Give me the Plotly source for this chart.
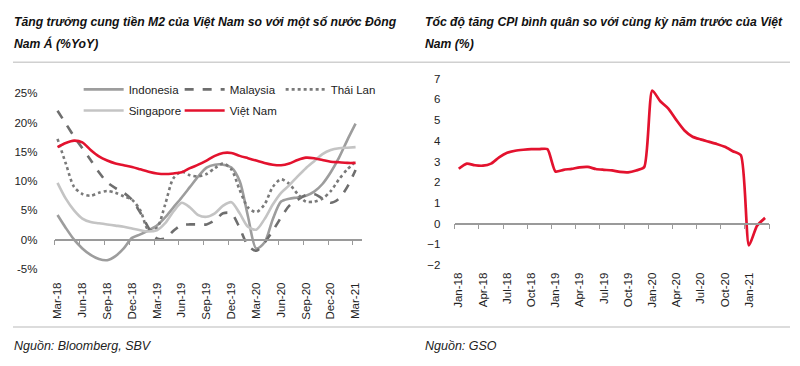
import plotly.graph_objects as go

# ---------------- data ----------------
m2_labels = ["Mar-18", "Jun-18", "Sep-18", "Dec-18", "Mar-19", "Jun-19", "Sep-19",
             "Dec-19", "Mar-20", "Jun-20", "Sep-20", "Dec-20", "Mar-21"]
m2_months = list(range(37))  # monthly, Mar-18 .. Mar-21

indonesia = [4.2, 2.0, 0.0, -1.5, -2.6, -3.3, -3.5, -2.8, -1.5, 0.3, 0.9, 1.6, 2.4,
             3.8, 5.5, 7.2, 9.0, 10.8, 12.3, 12.8, 12.8, 12.3, 10.0, 4.0, -1.5,
             -0.5, 3.5, 6.5, 7.0, 7.2, 7.5, 8.2, 9.5, 11.5, 14.0, 17.0, 19.8]
malaysia = [22.0, 19.8, 17.6, 15.6, 13.6, 11.5, 9.8, 8.8, 8.0, 6.8, 4.6, 2.0, 0.2,
            0.2, 1.5, 2.5, 2.6, 2.6, 2.6, 3.3, 4.5, 4.5, 2.0, -1.0, -1.9,
            -0.5, 1.5, 3.8, 5.8, 6.8, 7.6, 7.8, 7.0, 6.3, 7.0, 9.0, 11.9]
thailand = [17.2, 13.0, 9.0, 7.8, 7.5, 8.0, 8.3, 8.0, 7.4, 6.8, 5.0, 1.6, 2.0,
            6.0, 10.5, 11.6, 11.0, 10.8, 11.2, 12.2, 13.0, 12.0, 8.5, 5.5, 4.7,
            6.0, 9.0, 10.3, 9.5, 7.8, 6.5, 6.5, 7.0, 8.3, 10.3, 12.0, 13.3]
singapore = [9.7, 7.0, 5.0, 3.6, 3.0, 2.8, 2.6, 2.4, 2.2, 1.9, 1.6, 1.4, 1.6,
             2.8, 4.8, 6.3, 5.5, 4.2, 3.9, 4.5, 5.8, 6.4, 4.5, 2.2, 1.7,
             3.5, 6.0, 8.0, 9.3, 10.8, 12.2, 13.4, 14.6, 15.3, 15.6, 15.7, 15.8]
vietnam = [15.8, 16.5, 16.9, 16.6, 15.3, 14.2, 13.5, 13.0, 12.7, 12.4, 12.0, 11.6, 11.3,
           11.2, 11.3, 11.5, 12.2, 12.8, 13.5, 14.3, 14.8, 14.8, 14.3, 13.9, 13.5,
           13.1, 12.8, 12.7, 13.0, 13.6, 14.0, 13.9, 13.6, 13.3, 13.2, 13.1, 13.1]
m2_yticks = [-5, 0, 5, 10, 15, 20, 25]

cpi_labels = ["Jan-18", "Apr-18", "Jul-18", "Oct-18", "Jan-19", "Apr-19", "Jul-19",
              "Oct-19", "Jan-20", "Apr-20", "Jul-20", "Oct-20", "Jan-21"]
cpi_months = list(range(39))  # monthly, Jan-18 .. Mar-21
cpi = [2.65, 2.9, 2.82, 2.8, 2.9, 3.2, 3.42, 3.52, 3.57, 3.6, 3.6, 3.6,
       2.52, 2.6, 2.65, 2.72, 2.74, 2.64, 2.6, 2.57, 2.5, 2.48, 2.57, 2.73,
       6.43, 5.91, 5.56, 5.0, 4.5, 4.2, 4.07, 3.96, 3.85, 3.71, 3.5, 3.3,
       -1.05, -0.1, 0.28]
cpi_yticks = [-2, -1, 0, 1, 2, 3, 4, 5, 6, 7]

# ---------------- layout helpers ----------------
# The page body keeps its default 8px margin, so the figure is sized to fit
# the 800x366 window exactly (784x350) and positions are given in window px.
OFF = 8
FW, FH = 800 - 2 * OFF, 366 - 2 * OFF
FONT = "Liberation Sans, Arial, sans-serif"

def sx(pix):
    return (pix - OFF) / FW

def sy(pix):
    return (FH - (pix - OFF)) / FH

L_DOM_X = [sx(51), sx(360)]
L_DOM_Y = [sy(272), sy(90)]
R_DOM_X = [sx(453), sx(769)]
R_DOM_Y = [sy(268), sy(75)]
L_RANGE_Y = [-5, 25]
R_RANGE_Y = [-2, 7]
L_RANGE_X = [-0.33, 36.8]
R_RANGE_X = [-0.5, 38.5]

def zero_pos(dom, rng):
    return dom[0] + (0 - rng[0]) / (rng[1] - rng[0]) * (dom[1] - dom[0])

fig = go.Figure()

series = [
    ("Indonesia", indonesia, "#9d9d9d", "solid", "legend"),
    ("Malaysia", malaysia, "#6e6e6e", "dash", "legend"),
    ("Thái Lan", thailand, "#7a7a7a", "dot", "legend"),
    ("Singapore", singapore, "#c4c4c4", "solid", "legend2"),
    ("Việt Nam", vietnam, "#e3122e", "solid", "legend2"),
]
for name, vals, col, dash, lg in series:
    fig.add_trace(go.Scatter(
        x=m2_months, y=vals, name=name, mode="lines",
        line=dict(color=col, width=2.6, dash=dash, shape="spline", smoothing=0.8),
        xaxis="x", yaxis="y", legend=lg, hoverinfo="skip"))

fig.add_trace(go.Scatter(
    x=cpi_months, y=cpi, name="CPI", mode="lines", showlegend=False,
    line=dict(color="#e3122e", width=2.7, shape="spline", smoothing=0.6),
    xaxis="x2", yaxis="y2", hoverinfo="skip"))

# invisible helper traces so the zero-line axes get drawn
fig.add_trace(go.Scatter(x=[0], y=[0], mode="markers", marker=dict(opacity=0),
                         showlegend=False, hoverinfo="skip", xaxis="x3", yaxis="y"))
fig.add_trace(go.Scatter(x=[0], y=[0], mode="markers", marker=dict(opacity=0),
                         showlegend=False, hoverinfo="skip", xaxis="x4", yaxis="y2"))

tickfont = dict(family=FONT, size=11.5, color="#222222")
legfont = dict(family=FONT, size=11.5, color="#222222")

fig.update_layout(
    width=FW, height=FH, margin=dict(l=0, r=0, t=0, b=0),
    paper_bgcolor="white", plot_bgcolor="white",
    xaxis=dict(domain=L_DOM_X, range=L_RANGE_X, anchor="y",
               tickmode="array", tickvals=[3 * i for i in range(13)], ticktext=m2_labels,
               tickangle=-90, tickfont=tickfont, showline=False, showgrid=False,
               zeroline=False, ticks="outside", ticklen=8, tickcolor="rgba(0,0,0,0)"),
    yaxis=dict(domain=L_DOM_Y, range=L_RANGE_Y, anchor="x",
               tickmode="array", tickvals=m2_yticks, ticktext=[f"{v}%" for v in m2_yticks],
               tickfont=tickfont, showline=False, showgrid=False, zeroline=False,
               ticks="outside", ticklen=14, tickcolor="rgba(0,0,0,0)"),
    xaxis2=dict(domain=R_DOM_X, range=R_RANGE_X, anchor="y2",
                tickmode="array", tickvals=[3 * i for i in range(13)], ticktext=cpi_labels,
                tickangle=-90, tickfont=tickfont, showline=False, showgrid=False,
                zeroline=False, ticks="outside", ticklen=2, tickcolor="rgba(0,0,0,0)"),
    yaxis2=dict(domain=R_DOM_Y, range=R_RANGE_Y, anchor="x2",
                tickmode="array", tickvals=cpi_yticks, tickfont=tickfont,
                showline=False, showgrid=False, zeroline=False,
                ticks="outside", ticklen=11, tickcolor="rgba(0,0,0,0)"),
    xaxis3=dict(overlaying="x", anchor="free", position=zero_pos(L_DOM_Y, L_RANGE_Y),
                range=L_RANGE_X, side="bottom", showline=True, linecolor="#9a9a9a",
                linewidth=1.5, showgrid=False, zeroline=False, showticklabels=False,
                tickmode="array", tickvals=[-0.33 + 3 * i for i in range(13)],
                ticks="outside", ticklen=5, tickwidth=1.2, tickcolor="#9a9a9a"),
    xaxis4=dict(overlaying="x2", anchor="free", position=zero_pos(R_DOM_Y, R_RANGE_Y),
                range=R_RANGE_X, side="bottom", showline=True, linecolor="#9a9a9a",
                linewidth=1.5, showgrid=False, zeroline=False, showticklabels=False,
                tickmode="array", tickvals=[-0.5 + 3 * i for i in range(14)],
                ticks="outside", ticklen=5, tickwidth=1.2, tickcolor="#9a9a9a"),
    legend=dict(orientation="h", x=sx(75), y=sy(86), xanchor="left", yanchor="middle",
                entrywidth=46, entrywidthmode="pixels", itemwidth=40,
                font=legfont, bgcolor="rgba(0,0,0,0)", tracegroupgap=0),
    legend2=dict(orientation="h", x=sx(75), y=sy(108), xanchor="left", yanchor="middle",
                 entrywidth=46, entrywidthmode="pixels", itemwidth=40,
                 font=legfont, bgcolor="rgba(0,0,0,0)", tracegroupgap=0),
    showlegend=True,
)

title_font = dict(family=FONT, size=12.2, color="#111111")
src_font = dict(family=FONT, size=12.5, color="#222222")
annos = [
    (8, 16, "<b><i>Tăng trưởng cung tiền M2 của Việt Nam so với một số nước Đông</i></b>", title_font),
    (8, 39, "<b><i>Nam Á (%YoY)</i></b>", title_font),
    (421, 16, "<b><i>Tốc độ tăng CPI bình quân so với cùng kỳ năm trước của Việt</i></b>", title_font),
    (421, 39, "<b><i>Nam (%)</i></b>", title_font),
    (8, 352, "<i>Nguồn: Bloomberg, SBV</i>", src_font),
    (421, 352, "<i>Nguồn: GSO</i>", src_font),
]
for x, y, txt, f in annos:
    fig.add_annotation(xref="paper", yref="paper", x=sx(x), y=sy(y), text=txt,
                       showarrow=False, xanchor="left", yanchor="middle", font=f)

for yy in (58, 332):
    fig.add_shape(type="line", xref="paper", yref="paper", x0=sx(9), x1=sx(790),
                  y0=sy(yy), y1=sy(yy), line=dict(color="#d0d0d0", width=1.5))

fig.write_html("out.html")
